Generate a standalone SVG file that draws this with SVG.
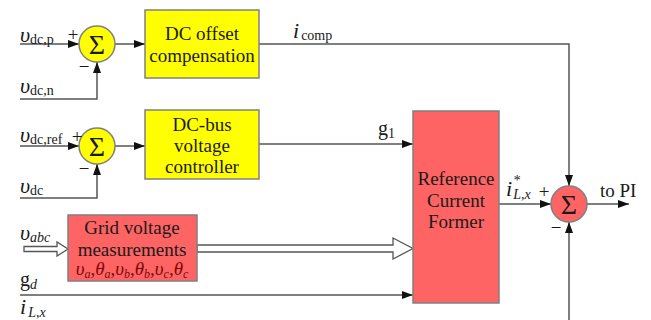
<svg xmlns="http://www.w3.org/2000/svg" width="651" height="320" viewBox="0 0 651 320" font-family="'Liberation Serif', 'DejaVu Serif', serif">
<defs>
<marker id="ah" markerWidth="12" markerHeight="10" refX="11" refY="4" orient="auto" markerUnits="userSpaceOnUse">
<path d="M0,0 L11,4 L0,8 Z" fill="#111"/>
</marker>
<style>
.ln{stroke:#555;stroke-width:1.5;fill:none}
.yb{fill:#FFFF00;stroke:#808080;stroke-width:1.5}
.rb{fill:#FF6464;stroke:#808080;stroke-width:1.5}
.t{font-family:"Liberation Serif",serif;font-size:19px;fill:#1a1a1a;text-anchor:middle}
.lab{font-family:"Liberation Serif",serif;fill:#1a1a1a}
.sig{font-family:"Liberation Serif",serif;font-size:28px;fill:#1a1a1a;text-anchor:middle}
.gt{font-family:"Liberation Serif",serif;font-size:19px;fill:#7a0a0a;font-style:italic;text-anchor:middle}
</style>
</defs>
<rect width="651" height="320" fill="#fff"/>
<g id="connectors">
<line class="ln" x1="20" y1="44" x2="79" y2="44" marker-end="url(#ah)"/>
<polyline class="ln" points="20,99 97,99 97,62" marker-end="url(#ah)"/>
<line class="ln" x1="115" y1="44" x2="145" y2="44" marker-end="url(#ah)"/>
<polyline class="ln" points="259,44 569,44 569,186" marker-end="url(#ah)"/>
<line class="ln" x1="20" y1="146" x2="79" y2="146" marker-end="url(#ah)"/>
<polyline class="ln" points="20,198 97,198 97,164" marker-end="url(#ah)"/>
<line class="ln" x1="115" y1="146" x2="145" y2="146" marker-end="url(#ah)"/>
<line class="ln" x1="259" y1="144" x2="413" y2="144" marker-end="url(#ah)"/>
<polygon points="24,246.5 57,246.5 57,242 68,249 57,256 57,251.5 24,251.5" fill="#fff" stroke="#555" stroke-width="1.3"/>
<polygon points="197,245 393,245 393,238 413,248.5 393,259 393,252 197,252" fill="#fff" stroke="#555" stroke-width="1.3"/>
<line class="ln" x1="20" y1="295" x2="413" y2="295" marker-end="url(#ah)"/>
<line class="ln" x1="499" y1="204" x2="551" y2="204" marker-end="url(#ah)"/>
<line class="ln" x1="569" y1="320" x2="569" y2="222" marker-end="url(#ah)"/>
<line class="ln" x1="587" y1="204" x2="629" y2="204" marker-end="url(#ah)"/>
</g>
<g id="sum1">
<circle cx="97" cy="44" r="18" class="yb"/>
<text class="sig" x="97" y="54">Σ</text>
<text class="lab" x="73" y="41" font-size="19" text-anchor="middle">+</text>
<text class="lab" x="84" y="73" font-size="19" text-anchor="middle">−</text>
</g>
<g id="dc-offset">
<rect x="145" y="10" width="114" height="68" class="yb"/>
<text class="t" x="202" y="40">DC offset</text>
<text class="t" x="202" y="62">compensation</text>
</g>
<g id="sum2">
<circle cx="97" cy="146" r="18" class="yb"/>
<text class="sig" x="97" y="156">Σ</text>
<text class="lab" x="77" y="143" font-size="19" text-anchor="middle">+</text>
<text class="lab" x="84" y="175" font-size="19" text-anchor="middle">−</text>
</g>
<g id="dc-bus">
<rect x="145" y="110" width="114" height="69" class="yb"/>
<text class="t" x="202" y="131">DC-bus</text>
<text class="t" x="202" y="152">voltage</text>
<text class="t" x="202" y="173">controller</text>
</g>
<g id="grid">
<rect x="68" y="215" width="129" height="66" class="rb"/>
<text class="t" x="132" y="234">Grid voltage</text>
<text class="t" x="132" y="256">measurements</text>
<text class="gt" x="132" y="275">υ<tspan font-size="12" dy="3">a</tspan><tspan dy="-3">,θ</tspan><tspan font-size="12" dy="3">a</tspan><tspan dy="-3">,υ</tspan><tspan font-size="12" dy="3">b</tspan><tspan dy="-3">,θ</tspan><tspan font-size="12" dy="3">b</tspan><tspan dy="-3">,υ</tspan><tspan font-size="12" dy="3">c</tspan><tspan dy="-3">,θ</tspan><tspan font-size="12" dy="3">c</tspan></text>
</g>
<g id="ref-former">
<rect x="413" y="111" width="86" height="192" class="rb"/>
<text class="t" x="456" y="185">Reference</text>
<text class="t" x="456" y="207">Current</text>
<text class="t" x="456" y="228">Former</text>
</g>
<g id="sum3">
<circle cx="569" cy="204" r="18" class="rb"/>
<text class="sig" x="569" y="214">Σ</text>
<text class="lab" x="544" y="198" font-size="19" text-anchor="middle">+</text>
<text class="lab" x="556" y="234" font-size="19" text-anchor="middle">−</text>
</g>
<g id="labels">
<text class="lab" x="20" y="42" font-size="22" font-style="italic">υ<tspan font-size="14" font-style="normal" dy="2">dc,p</tspan></text>
<text class="lab" x="20" y="93" font-size="22" font-style="italic">υ<tspan font-size="14" font-style="normal" dy="2">dc,n</tspan></text>
<text class="lab" x="20" y="142" font-size="22" font-style="italic">υ<tspan font-size="14" font-style="normal" dy="2">dc,ref</tspan></text>
<text class="lab" x="20" y="193" font-size="22" font-style="italic">υ<tspan font-size="14" font-style="normal" dy="2">dc</tspan></text>
<text class="lab" x="20" y="240" font-size="22" font-style="italic">υ<tspan font-size="14" dy="2">abc</tspan></text>
<text class="lab" x="20" y="286" font-size="20">g<tspan font-size="14" font-style="italic" dy="3">d</tspan></text>
<text class="lab" x="20" y="314" font-size="22" font-style="italic">i<tspan font-size="14" dx="2" dy="3">L,x</tspan></text>
<text class="lab" x="293" y="38" font-size="22" font-style="italic">i<tspan font-size="14" font-style="normal" dx="2" dy="2">comp</tspan></text>
<text class="lab" x="378" y="135" font-size="20">g<tspan font-size="14" dy="3">1</tspan></text>
<text class="lab" x="506" y="196" font-size="22" font-style="italic">i<tspan font-size="14" dx="1" dy="3">L,x</tspan></text>
<text class="lab" x="513" y="185" font-size="14" font-style="italic">*</text>
<text class="lab" x="600" y="197" font-size="19">to PI</text>
</g>
</svg>
